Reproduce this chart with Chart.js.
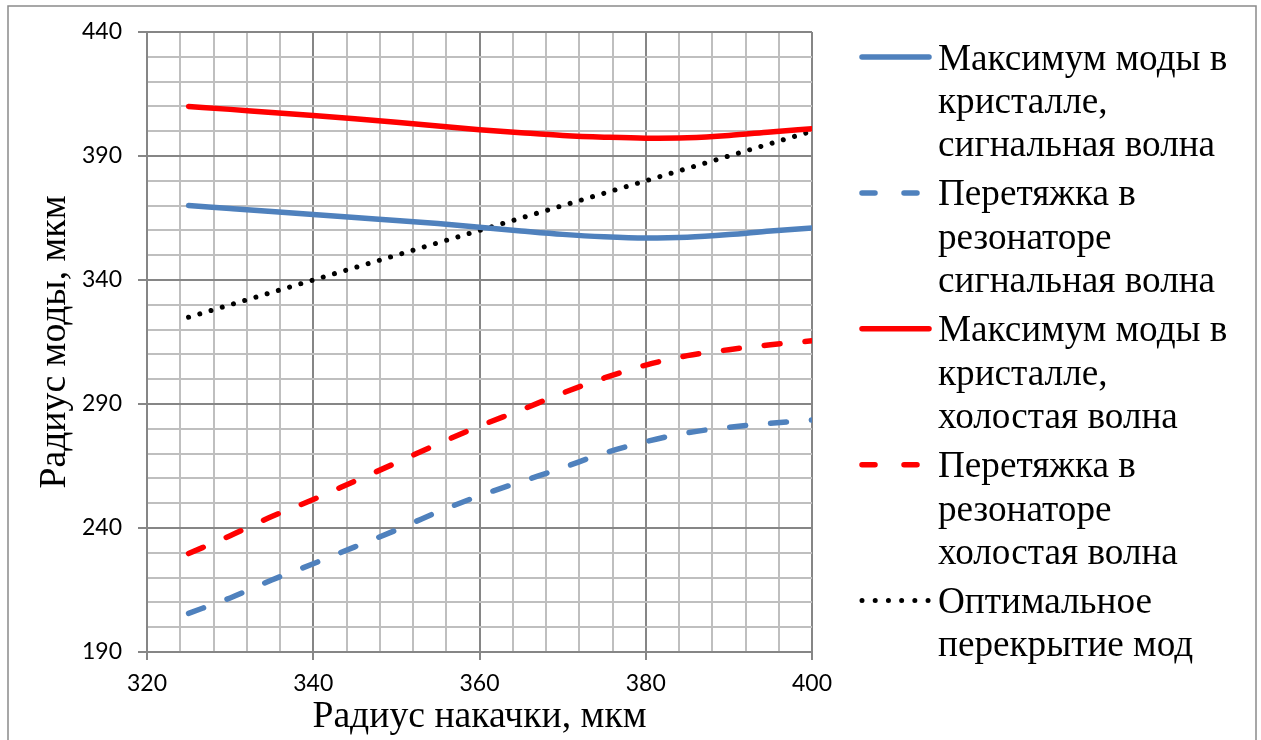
<!DOCTYPE html>
<html>
<head>
<meta charset="utf-8">
<script src="https://cdn.jsdelivr.net/npm/chart.js@4"></script>
<style>
  html, body { margin: 0; padding: 0; background: #ffffff; }
  #wrap { width: 1261px; height: 740px; position: relative; }
</style>
</head>
<body>
<div id="wrap"><canvas id="chart"></canvas></div>
<script>
// Pump radius, µm
const pumpRadius = [325, 330, 335, 340, 345, 350, 355, 360, 365, 370, 375, 380, 385, 390, 395, 400];

// Mode radius, µm
const signalCrystalMax = [370, 368.8, 367.6, 366.4, 365.2, 364, 362.8, 361.3, 359.8, 358.4, 357.4, 356.9, 357.2, 358.3, 359.8, 361];
const signalCavityWaist = [205.6, 211.8, 219, 225.6, 232.4, 239.2, 246.5, 253, 258.7, 264.3, 270.2, 274.8, 278.4, 280.6, 282.2, 283.6];
const idlerCrystalMax = [410, 408.8, 407.5, 406.3, 405, 403.6, 402.1, 400.6, 399.4, 398.3, 397.6, 397.2, 397.4, 398.3, 399.7, 401];
const idlerCavityWaist = [229.7, 236.9, 244.6, 251.5, 258.9, 266.3, 273.9, 281.1, 287.6, 294.4, 300.5, 305.7, 309.5, 311.9, 313.9, 315.5];
const optimalOverlap = [325, 330, 335, 340, 345, 350, 355, 360, 365, 370, 375, 380, 385, 390, 395, 400];

// Legend text, one array of lines per series
const seriesLabels = [
  ['Максимум моды в', 'кристалле,', 'сигнальная волна'],
  ['Перетяжка в', 'резонаторе', 'сигнальная волна'],
  ['Максимум моды в', 'кристалле,', 'холостая волна'],
  ['Перетяжка в', 'резонаторе', 'холостая волна'],
  ['Оптимальное', 'перекрытие мод']
];

const xTitle = 'Радиус накачки, мкм';
const yTitle = 'Радиус моды, мкм';

const BLUE = '#4f81bd';
const RED = '#ff0000';
const SERIF = '"Liberation Serif", "Times New Roman", serif';
const SANS = 'Lato, "Open Sans", sans-serif';
const MAJOR = '#868686';
const MINOR = '#bfbfbf';

function series(values, labelLines, color, dash, width) {
  return {
    label: labelLines.join(' '),
    legendLines: labelLines,
    data: pumpRadius.map((x, i) => ({ x: x, y: values[i] })),
    borderColor: color,
    backgroundColor: color,
    borderWidth: width,
    borderDash: dash,
    borderCapStyle: 'round',
    borderJoinStyle: 'round',
    pointRadius: 0,
    pointHoverRadius: 0,
    fill: false,
    cubicInterpolationMode: 'monotone'
  };
}

const datasets = [
  series(signalCrystalMax, seriesLabels[0], BLUE, [], 5.5),
  series(signalCavityWaist, seriesLabels[1], BLUE, [16, 25], 5.5),
  series(idlerCrystalMax, seriesLabels[2], RED, [], 5.5),
  series(idlerCavityWaist, seriesLabels[3], RED, [16, 25], 5.5),
  series(optimalOverlap, seriesLabels[4], '#000000', [0.01, 11.7], 5)
];

// Outer frame and the multi-line legend on the right
const framePlugin = {
  id: 'frame',
  beforeDraw(chart) {
    const ctx = chart.ctx;
    ctx.save();
    ctx.fillStyle = '#ffffff';
    ctx.fillRect(0, 0, chart.width, chart.height);
    ctx.strokeStyle = '#8a8a8a';
    ctx.lineWidth = 1.5;
    ctx.strokeRect(8, 6, 1248, 800);
    ctx.restore();
  }
};

const sideLegendPlugin = {
  id: 'sideLegend',
  afterDraw(chart) {
    const ctx = chart.ctx;
    const x0 = 862, x1 = 929, tx = 938;
    const lineH = 43.3, entryGap = 6;
    let y = 57;
    ctx.save();
    ctx.font = '37.2px ' + SERIF;
    ctx.fillStyle = '#000000';
    ctx.textBaseline = 'alphabetic';
    chart.data.datasets.forEach(ds => {
      ctx.save();
      ctx.strokeStyle = ds.borderColor;
      ctx.lineWidth = ds.borderWidth;
      ctx.lineCap = 'round';
      ctx.setLineDash(ds.borderDash.length ? (ds.borderDash[0] < 1 ? [0.01, 13.2] : [13, 29]) : []);
      ctx.beginPath();
      ctx.moveTo(x0, y);
      ctx.lineTo(x1, y);
      ctx.stroke();
      ctx.restore();
      ds.legendLines.forEach((t, i) => {
        ctx.fillText(t, tx, y + 12.5 + i * lineH);
      });
      y += ds.legendLines.length * lineH + entryGap;
    });
    ctx.restore();
  }
};

new Chart(document.getElementById('chart'), {
  type: 'line',
  data: { datasets: datasets },
  options: {
    responsive: true,
    maintainAspectRatio: false,
    animation: false,
    events: [],
    layout: { padding: { left: 0, right: 449, top: 32, bottom: 0 } },
    plugins: {
      legend: { display: false },
      tooltip: { enabled: false }
    },
    scales: {
      x: {
        type: 'linear',
        min: 320,
        max: 400,
        afterFit(scale) { scale.height = 88; },
        border: { display: true, color: MAJOR, width: 2 },
        grid: {
          color: c => (c.tick && c.tick.value % 20 === 0) ? MAJOR : MINOR,
          lineWidth: 2,
          tickLength: 8,
          tickColor: c => (c.tick && c.tick.value % 20 === 0) ? MAJOR : 'rgba(0,0,0,0)',
          tickWidth: 2
        },
        ticks: {
          stepSize: 4,
          autoSkip: false,
          maxRotation: 0,
          padding: 10,
          color: '#000000',
          font: { family: SANS, size: 23 },
          callback: v => (v % 20 === 0 ? String(v) : '')
        },
        title: {
          display: true,
          text: xTitle,
          color: '#000000',
          font: { family: SERIF, size: 37.7 },
          padding: { top: 0, bottom: 0 }
        }
      },
      y: {
        type: 'linear',
        min: 190,
        max: 440,
        afterFit(scale) { scale.width = 147; },
        border: { display: true, color: MAJOR, width: 2 },
        grid: {
          color: c => (c.tick && (c.tick.value - 190) % 50 === 0) ? MAJOR : MINOR,
          lineWidth: 2,
          tickLength: 9,
          tickColor: c => (c.tick && (c.tick.value - 190) % 50 === 0) ? MAJOR : 'rgba(0,0,0,0)',
          tickWidth: 2
        },
        ticks: {
          stepSize: 10,
          autoSkip: false,
          padding: 16,
          color: '#000000',
          font: { family: SANS, size: 23 },
          callback: v => ((v - 190) % 50 === 0 ? String(v) : '')
        },
        title: {
          display: true,
          text: yTitle,
          color: '#000000',
          font: { family: SERIF, size: 37.7 },
          padding: { top: 32, bottom: 0 }
        }
      }
    }
  },
  plugins: [framePlugin, sideLegendPlugin]
});
</script>
</body>
</html>
